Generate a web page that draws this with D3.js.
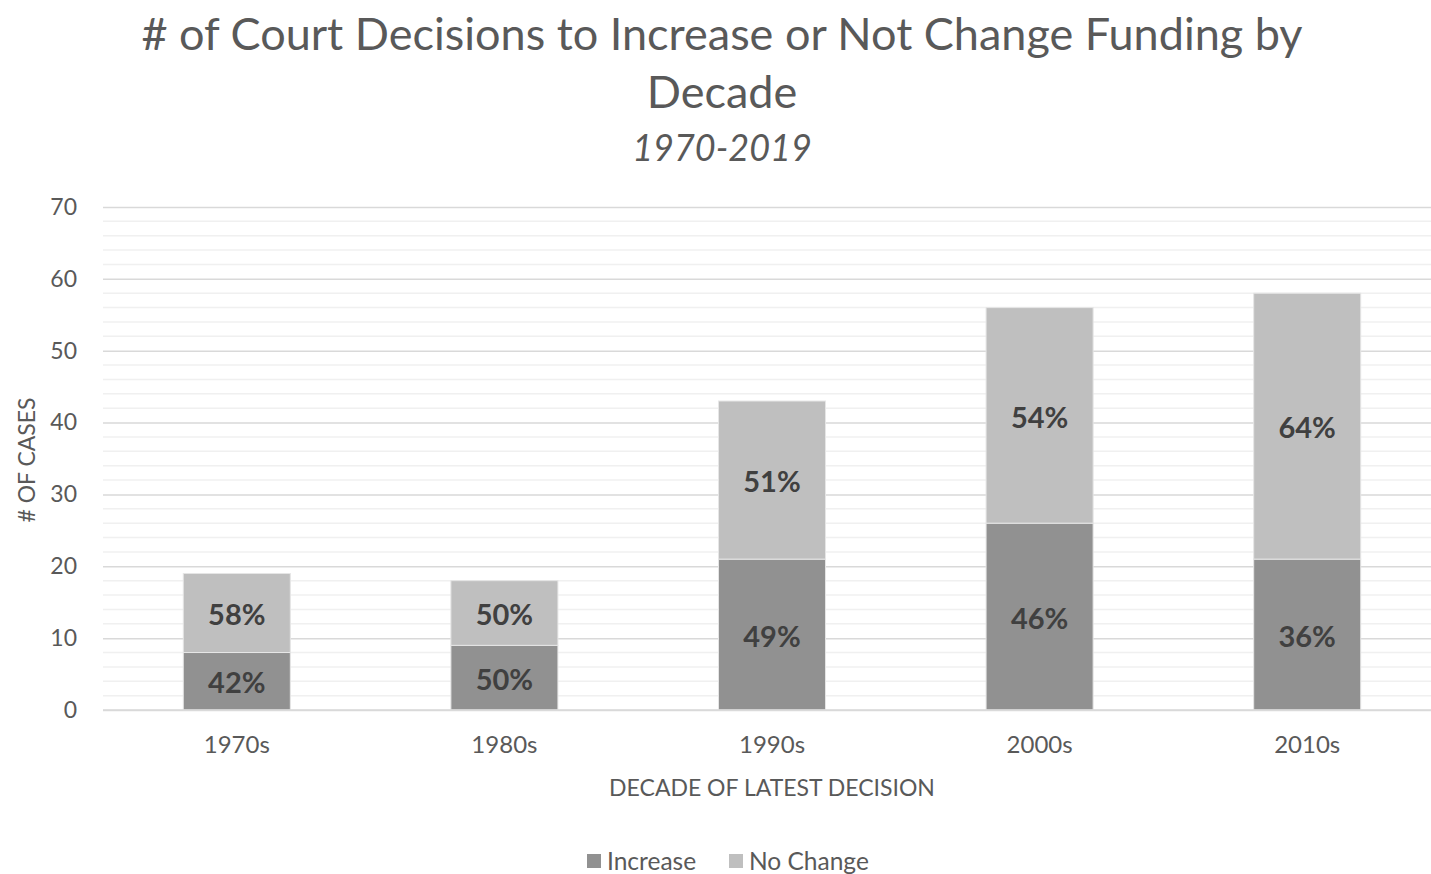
<!DOCTYPE html>
<html>
<head>
<meta charset="utf-8">
<script src="https://cdn.jsdelivr.net/npm/d3@7"></script>
<style>
  body { margin: 0; background: #fff; }
  svg { display: block; font-family: Lato, "Open Sans", sans-serif; }
</style>
</head>
<body>
<svg id="chart"></svg>
<script>
// chart data
const decades = ["1970s", "1980s", "1990s", "2000s", "2010s"];
const increase = [8, 9, 21, 26, 21];
const noChange = [11, 9, 22, 30, 37];
const increasePct = ["42%", "50%", "49%", "46%", "36%"];
const noChangePct = ["58%", "50%", "51%", "54%", "64%"];
const yTicks = [0, 10, 20, 30, 40, 50, 60, 70];

const width = 1431, height = 874;
const margin = {top: 207, right: -10, bottom: 164, left: 103};

const svg = d3.select("#chart").attr("width", width).attr("height", height);

const x = d3.scaleBand()
    .domain(decades)
    .range([margin.left, width - margin.right])
    .paddingInner(0.6)
    .paddingOuter(0.3);

const y = d3.scaleLinear()
    .domain([0, 70])
    .range([height - margin.bottom, margin.top]);

// minor gridlines
svg.append("g")
    .selectAll("line")
    .data(d3.range(0, 71, 2).filter(v => v % 10 !== 0))
    .join("line")
    .attr("x1", margin.left).attr("x2", width)
    .attr("y1", d => y(d)).attr("y2", d => y(d))
    .attr("stroke", "#f0f0f0").attr("stroke-width", 1.5);

// major gridlines + labels
const yAxis = d3.axisLeft(y).tickValues(yTicks).tickSize(-(width - margin.left)).tickPadding(26);
const gy = svg.append("g")
    .attr("transform", `translate(${margin.left},0)`)
    .call(yAxis);
gy.select(".domain").remove();
gy.selectAll(".tick line").attr("stroke", "#d9d9d9").attr("stroke-width", 1.5);
gy.selectAll(".tick text").attr("fill", "#595959").attr("font-size", 23)
  .attr("font-family", "Lato, sans-serif");

// stacked bars
const stacked = decades.map((d, i) => ({decade: d, inc: increase[i], nc: noChange[i], ip: increasePct[i], np: noChangePct[i]}));

const bars = svg.append("g").selectAll("g").data(stacked).join("g");

bars.append("rect")
    .attr("x", d => x(d.decade))
    .attr("width", x.bandwidth())
    .attr("y", d => y(d.inc))
    .attr("height", d => y(0) - y(d.inc))
    .attr("fill", "#919191")
    .attr("stroke", "#e6e6e6").attr("stroke-width", 1);

bars.append("rect")
    .attr("x", d => x(d.decade))
    .attr("width", x.bandwidth())
    .attr("y", d => y(d.inc + d.nc))
    .attr("height", d => y(d.inc) - y(d.inc + d.nc))
    .attr("fill", "#bfbfbf")
    .attr("stroke", "#e6e6e6").attr("stroke-width", 1);

bars.append("text")
    .attr("x", d => x(d.decade) + x.bandwidth() / 2)
    .attr("y", d => y(d.inc / 2))
    .attr("dy", "0.42em")
    .attr("text-anchor", "middle")
    .attr("font-size", 29).attr("font-weight", "bold").attr("fill", "#404040")
    .text(d => d.ip);

bars.append("text")
    .attr("x", d => x(d.decade) + x.bandwidth() / 2)
    .attr("y", d => y(d.inc + d.nc / 2))
    .attr("dy", "0.42em")
    .attr("text-anchor", "middle")
    .attr("font-size", 29).attr("font-weight", "bold").attr("fill", "#404040")
    .text(d => d.np);

// x axis
const gx = svg.append("g")
    .attr("transform", `translate(0,${y(0)})`)
    .call(d3.axisBottom(x).tickSize(0).tickPadding(26));
gx.select(".domain").remove();
gx.selectAll(".tick text").attr("fill", "#595959").attr("font-size", 24)
  .attr("font-family", "Lato, sans-serif");

// baseline
svg.append("line")
    .attr("x1", margin.left).attr("x2", width)
    .attr("y1", y(0)).attr("y2", y(0))
    .attr("stroke", "#d9d9d9").attr("stroke-width", 1.5);

// titles
svg.append("text").attr("x", 722).attr("y", 50).attr("text-anchor", "middle")
    .attr("font-size", 45).attr("fill", "#595959")
    .text("# of Court Decisions to Increase or Not Change Funding by");
svg.append("text").attr("x", 722).attr("y", 108).attr("text-anchor", "middle")
    .attr("font-size", 45).attr("fill", "#595959")
    .text("Decade");
svg.append("text").attr("x", 722).attr("y", 161).attr("text-anchor", "middle")
    .attr("font-size", 36).attr("font-style", "italic").attr("fill", "#595959")
    .text("1970-2019");

svg.append("text").attr("x", 772).attr("y", 796).attr("text-anchor", "middle")
    .attr("font-size", 23).attr("fill", "#595959")
    .text("DECADE OF LATEST DECISION");

svg.append("text")
    .attr("transform", "translate(35,460) rotate(-90)")
    .attr("text-anchor", "middle")
    .attr("font-size", 23).attr("fill", "#595959")
    .text("# OF CASES");

// legend
const legend = [{name: "Increase", color: "#919191", x: 587}, {name: "No Change", color: "#bfbfbf", x: 729}];
const lg = svg.append("g").selectAll("g").data(legend).join("g")
    .attr("transform", d => `translate(${d.x},861)`);
lg.append("rect").attr("x", 0).attr("y", -7).attr("width", 14).attr("height", 14)
    .attr("fill", d => d.color);
lg.append("text").attr("x", 20).attr("y", 0).attr("dy", "0.36em")
    .attr("font-size", 24.5).attr("fill", "#595959")
    .text(d => d.name);
</script>
</body>
</html>
